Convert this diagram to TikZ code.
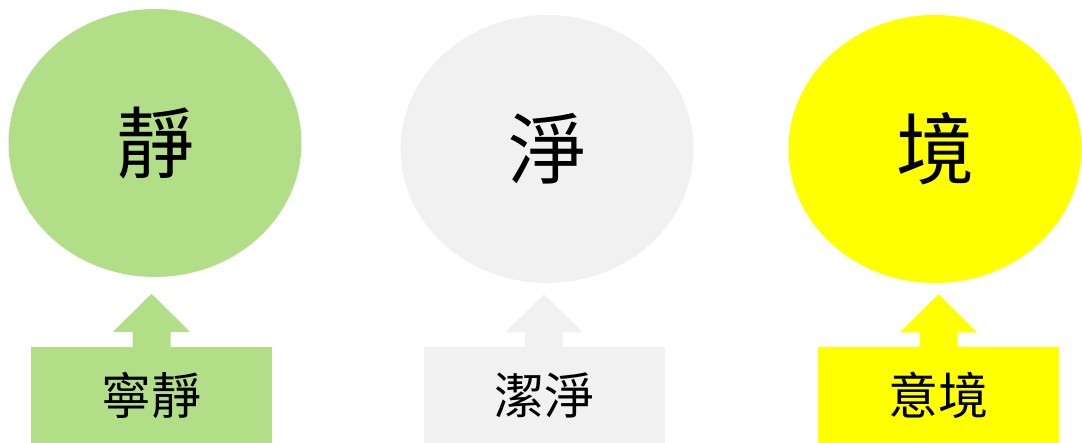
\documentclass[tikz,border=0pt]{standalone}
\usepackage{fontspec}
\newfontfamily\cjk{Noto Sans CJK TC}
\usetikzlibrary{shapes.geometric}
\definecolor{cgreen}{HTML}{B2DE87}
\definecolor{cgray}{HTML}{F1F1F1}
\definecolor{cyellow}{HTML}{FFFF00}
\begin{document}
\begin{tikzpicture}[x=1pt,y=1pt,
  circ/.style={ellipse, minimum width=293pt, minimum height=268pt, inner sep=0pt,
    font=\cjk\fontsize{78}{80}\selectfont},
  box/.style={rectangle, minimum width=241pt, minimum height=96pt, inner sep=0pt,
    font=\cjk\fontsize{50}{54}\selectfont},
  uparr/.pic={\path[pic actions] (-19,0) -- (-19,15) -- (-38.5,15) -- (0,53) -- (38.5,15) -- (19,15) -- (19,0) -- cycle;}
]
\useasboundingbox (0,0) rectangle (1082,443);
\node[circ, fill=cgreen] (c1) at (155,300) {靜};
\node[circ, fill=cgray] (c2) at (547,294) {淨};
\node[circ, fill=cyellow] (c3) at (935,294) {境};
\node[box, fill=cgreen] (b1) at (151.5,48) {寧靜};
\node[box, fill=cgray] (b2) at (544,47.5) {潔淨};
\node[box, fill=cyellow] (b3) at (938.5,47.5) {意境};
\pic[fill=cgreen] at (b1.north) {uparr};
\pic[fill=cgray] at (b2.north) {uparr};
\pic[fill=cyellow] at (b3.north) {uparr};
\end{tikzpicture}
\end{document}
